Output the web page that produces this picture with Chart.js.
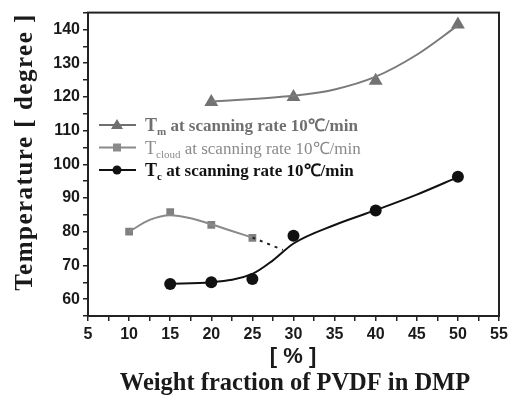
<!DOCTYPE html>
<html>
<head>
<meta charset="utf-8">
<script src="https://cdn.jsdelivr.net/npm/chart.js@4/dist/chart.umd.min.js"></script>
<style>
	html, body { margin: 0; padding: 0; background: #fff; }
	#wrap { width: 514px; height: 402px; position: relative; }
</style>
</head>
<body>
<div id="wrap"><canvas id="c" width="514" height="402"></canvas></div>
<script>
// measured points
let tmX = [20, 30, 40, 50];
let tmY = [118.5, 120, 124.8, 141.5];
let cloudX = [10, 15, 20, 25];
let cloudY = [80, 85.8, 82, 78.2];
let tcX = [15, 20, 25, 30, 40, 50];
let tcY = [64.5, 65, 66, 78.8, 86.3, 96.3];

// fitted curves
let tmFitX = [20, 25, 30, 35, 40, 45, 50];
let tmFitY = [118.6, 119.4, 120.3, 122.2, 126, 132.5, 141.2];
let cloudFitX = [10, 12.5, 15, 17.5, 20, 22.5, 25];
let cloudFitY = [80, 83.5, 84.9, 84, 82.2, 80.2, 78.3];
let tcFitX = [15, 20, 25, 27.5, 30, 35, 40, 45, 50];
let tcFitY = [64.6, 65, 67.5, 71.5, 76.5, 82, 86.4, 91, 96.2];
let dashX = [25, 28.7];
let dashY = [78.3, 74.6];

let legendRows = [
	{main: 'T', sub: 'm', rest: ' at scanning rate 10\u2103/min', color: '#6f6f6f', bold: true, shape: 'triangle'},
	{main: 'T', sub: 'cloud', rest: ' at scanning rate 10\u2103/min', color: '#8a8a8a', bold: false, shape: 'rect'},
	{main: 'T', sub: 'c', rest: ' at scanning rate 10\u2103/min', color: '#111', bold: true, shape: 'circle'},
];

let pts = (xs, ys) => xs.map((x, i) => ({x, y: ys[i]}));

let lineSet = (xs, ys, color, extra) => Object.assign({
	data: pts(xs, ys),
	borderColor: color,
	borderWidth: 2,
	pointRadius: 0,
	showLine: true,
	cubicInterpolationMode: 'monotone',
	fill: false,
}, extra || {});

let markSet = (xs, ys, color, style, r) => ({
	data: pts(xs, ys),
	backgroundColor: color,
	borderColor: color,
	borderWidth: 0,
	pointStyle: style,
	pointRadius: r,
	showLine: false,
});

let frame = {
	id: 'frame',
	afterDraw(chart) {
		let {ctx, chartArea: a} = chart;
		ctx.save();
		ctx.strokeStyle = '#222';
		ctx.lineWidth = 2;
		ctx.strokeRect(a.left, a.top, a.right - a.left, a.bottom - a.top);

		// axis titles
		ctx.fillStyle = '#1a1a1a';
		ctx.textAlign = 'center';
		ctx.textBaseline = 'middle';
		ctx.save();
		ctx.translate(26, 152);
		ctx.rotate(-Math.PI / 2);
		ctx.font = 'bold 25px "Liberation Serif", serif';
		ctx.letterSpacing = '1.5px';
		ctx.fillText('Temperature [ degree ]', 0, 0);
		ctx.restore();
		ctx.font = 'bold 22px "Liberation Sans", Arial, sans-serif';
		ctx.fillText('[ % ]', 293, 357);
		ctx.font = 'bold 24.5px "Liberation Serif", serif';
		ctx.fillText('Weight fraction of PVDF in DMP', 295, 384);

		// legend
		legendRows.forEach((row, i) => {
			let y = 125 + i * 22.5;
			ctx.strokeStyle = row.color;
			ctx.fillStyle = row.color;
			ctx.lineWidth = 2;
			ctx.beginPath();
			ctx.moveTo(99, y);
			ctx.lineTo(136, y);
			ctx.stroke();
			let mx = 117;
			ctx.beginPath();
			if (row.shape === 'triangle') {
				ctx.moveTo(mx, y - 6);
				ctx.lineTo(mx + 6, y + 4);
				ctx.lineTo(mx - 6, y + 4);
				ctx.closePath();
			} else if (row.shape === 'rect') {
				ctx.rect(mx - 4, y - 4, 8, 8);
			} else {
				ctx.arc(mx, y, 4.5, 0, Math.PI * 2);
			}
			ctx.fill();
			ctx.textAlign = 'left';
			ctx.textBaseline = 'alphabetic';
			let w = row.bold ? 'bold ' : '';
			let x = 145;
			ctx.font = w + '18px "Liberation Serif", serif';
			ctx.fillText(row.main, x, y + 6);
			x += ctx.measureText(row.main).width;
			ctx.font = w + '11px "Liberation Serif", serif';
			ctx.fillText(row.sub, x, y + 10);
			x += ctx.measureText(row.sub).width;
			ctx.font = w + '17px "Liberation Serif", serif';
			ctx.fillText(row.rest, x, y + 6);
		});
		ctx.restore();
	},
};

new Chart(document.getElementById('c'), {
	type: 'scatter',
	data: {
		datasets: [
			lineSet(tmFitX, tmFitY, '#7a7a7a'),
			lineSet(cloudFitX, cloudFitY, '#8a8a8a'),
			lineSet(tcFitX, tcFitY, '#111'),
			lineSet(dashX, dashY, '#222', {borderDash: [3, 5], cubicInterpolationMode: 'default'}),
			markSet(tmX, tmY, '#727272', 'triangle', 8),
			markSet(cloudX, cloudY, '#808080', 'rect', 5.5),
			markSet(tcX, tcY, '#111', 'circle', 6),
		],
	},
	options: {
		responsive: false,
		animation: false,
		layout: {padding: {top: 12, right: 15, left: 0, bottom: 0}},
		plugins: {legend: {display: false}, tooltip: {enabled: false}},
		scales: {
			x: {
				type: 'linear',
				min: 5,
				max: 55,
				afterFit(s) { s.height = 86; },
				border: {display: true, color: '#222', width: 2},
				grid: {drawOnChartArea: false, drawTicks: true, tickLength: 5, color: '#222', lineWidth: 1.5},
				ticks: {
					stepSize: 2.5,
					autoSkip: false,
					maxRotation: 0,
					padding: 4,
					color: '#1a1a1a',
					font: {family: '"Liberation Sans", Arial, sans-serif', size: 16, weight: 'bold'},
					callback: v => (v % 5 === 0 ? String(v) : ''),
				},
			},
			y: {
				min: 55,
				max: 145,
				afterFit(s) { s.width = 88; },
				border: {display: true, color: '#222', width: 2},
				grid: {drawOnChartArea: false, drawTicks: true, tickLength: 5, color: '#222', lineWidth: 1.5},
				ticks: {
					stepSize: 5,
					autoSkip: false,
					padding: 3,
					color: '#1a1a1a',
					font: {family: '"Liberation Sans", Arial, sans-serif', size: 16, weight: 'bold'},
					callback: v => (v % 10 === 0 && v >= 60 && v <= 140 ? String(v) : ''),
				},
			},
		},
	},
	plugins: [frame],
});
</script>
</body>
</html>
